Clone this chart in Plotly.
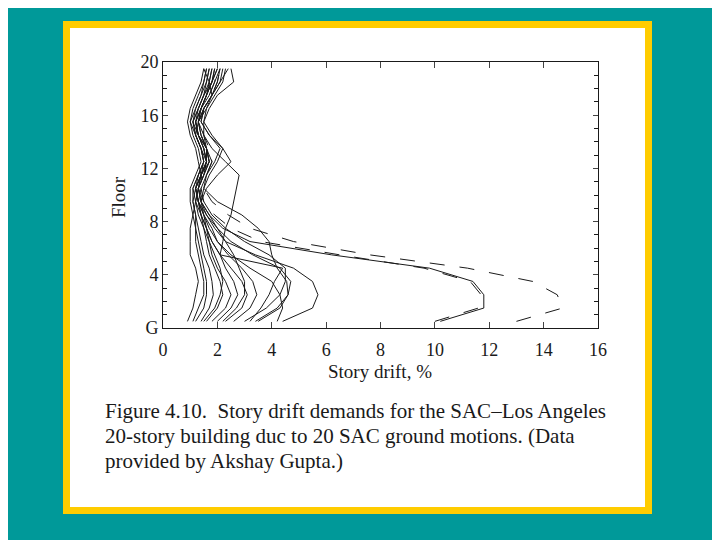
"""Story drift demands, SAC Los Angeles 20-story building (Fig. 4.10)."""

import plotly.graph_objects as go

# storey mid-heights the drifts are plotted at
floors = [0.5, 1.5, 2.5, 3.5, 4.5, 5.5, 6.5, 7.5, 8.5, 9.5,
          10.5, 11.5, 12.5, 13.5, 14.5, 15.5, 16.5, 17.5, 18.5, 19.5]

# story drift (%) per ground motion, bottom storey first
gm01 = [13.0, 14.7, 14.5, 13.6, 11.2, 7.6, 4.8, 3.2, 2.4, 1.8, 1.5, 1.4, 1.5, 1.6, 1.4, 1.3, 1.5, 1.7, 1.9, 2.0]
gm02 = [10.2, 11.8, 11.8, 11.4, 9.8, 6.2, 3.2, 2.2, 1.7, 1.4, 1.3, 1.5, 1.6, 1.4, 1.2, 1.3, 1.6, 1.8, 1.7, 1.5]
gm03 = [10.0, 11.6, 11.7, 11.3, 9.6, 6.5, 3.6, 2.5, 1.9, 1.5, 1.4, 1.6, 1.8, 1.7, 1.5, 1.4, 1.5, 1.8, 2.0, 2.1]
gm04 = [4.4, 5.5, 5.7, 5.5, 4.8, 3.4, 2.3, 1.9, 1.6, 1.3, 1.2, 1.4, 1.7, 1.6, 1.3, 1.2, 1.4, 1.6, 1.8, 1.9]
gm05 = [3.4, 4.2, 4.6, 4.7, 4.3, 3.3, 2.5, 2.0, 1.6, 1.4, 1.5, 1.7, 2.0, 2.2, 1.8, 1.5, 1.6, 1.9, 2.2, 2.3]
gm06 = [3.0, 3.8, 4.3, 4.5, 4.5, 3.9, 3.0, 2.3, 1.8, 1.5, 1.3, 1.4, 1.6, 1.5, 1.3, 1.2, 1.4, 1.6, 1.7, 1.8]
gm07 = [4.2, 4.4, 4.3, 4.0, 3.2, 2.5, 2.0, 1.7, 1.5, 1.3, 1.2, 1.3, 1.5, 1.4, 1.2, 1.1, 1.3, 1.5, 1.6, 1.7]
gm08 = [3.2, 3.6, 3.9, 4.1, 4.4, 2.1, 1.8, 1.6, 1.4, 1.3, 1.4, 1.6, 1.9, 2.1, 1.7, 1.4, 1.5, 1.8, 2.1, 2.4]
gm09 = [2.6, 3.2, 3.45, 3.3, 2.9, 2.4, 2.0, 1.8, 1.5, 1.3, 1.2, 1.4, 1.6, 1.5, 1.3, 1.2, 1.4, 1.6, 1.8, 1.9]
gm10 = [2.3, 2.9, 3.1, 2.9, 2.5, 2.1, 1.8, 1.6, 1.4, 1.2, 1.1, 1.3, 1.5, 1.4, 1.2, 1.0, 1.2, 1.4, 1.5, 1.6]
gm11 = [2.0, 2.5, 2.75, 2.6, 2.3, 2.1, 2.2, 2.3, 2.5, 2.6, 2.7, 2.8, 2.3, 1.8, 1.5, 1.3, 1.4, 1.6, 1.8, 2.0]
gm12 = [1.8, 2.3, 2.5, 2.3, 2.0, 1.8, 1.7, 1.6, 1.5, 1.4, 1.6, 2.0, 2.5, 2.2, 1.7, 1.4, 1.5, 1.8, 2.1, 2.2]
gm13 = [1.6, 2.0, 2.2, 2.1, 1.9, 1.7, 1.6, 1.5, 1.4, 1.3, 1.2, 1.4, 1.6, 1.5, 1.3, 1.1, 1.3, 1.5, 1.7, 1.8]
gm14 = [1.4, 1.7, 1.85, 1.8, 1.7, 1.5, 1.4, 1.3, 1.2, 1.1, 1.1, 1.3, 1.5, 1.4, 1.2, 1.1, 1.2, 1.4, 1.6, 1.7]
gm15 = [1.2, 1.5, 1.6, 1.6, 1.5, 1.4, 1.3, 1.2, 1.1, 1.0, 1.0, 1.2, 1.4, 1.3, 1.1, 1.0, 1.1, 1.3, 1.5, 1.6]
gm16 = [0.9, 1.1, 1.2, 1.3, 1.2, 1.0, 1.0, 1.0, 1.1, 1.2, 1.3, 1.4, 1.3, 1.2, 1.0, 0.9, 1.0, 1.2, 1.4, 1.5]
gm17 = [3.5, 4.3, 4.6, 4.55, 4.2, 4.0, 3.9, 3.5, 2.9, 2.0, 1.5, 1.6, 1.8, 1.6, 1.4, 1.3, 1.4, 1.7, 1.9, 2.1]
gm18 = [2.2, 2.7, 3.0, 3.0, 2.8, 2.6, 2.3, 2.0, 1.7, 1.4, 1.3, 1.5, 1.7, 1.6, 1.4, 1.3, 1.5, 1.8, 2.0, 2.1]
gm19 = [1.5, 1.9, 2.1, 2.2, 2.1, 1.9, 1.7, 1.5, 1.3, 1.2, 1.3, 1.5, 1.7, 1.6, 1.3, 1.2, 1.3, 1.5, 1.8, 2.0]
gm20 = [1.1, 1.3, 1.5, 1.5, 1.4, 1.3, 1.2, 1.2, 1.2, 1.1, 1.2, 1.4, 1.6, 1.6, 1.5, 1.5, 1.7, 2.0, 2.6, 2.5]

motions = [gm01, gm02, gm03, gm04, gm05, gm06, gm07, gm08, gm09, gm10,
           gm11, gm12, gm13, gm14, gm15, gm16, gm17, gm18, gm19, gm20]

x_ticks = [0, 2, 4, 6, 8, 10, 12, 14, 16]
y_ticks = [0, 4, 8, 12, 16, 20]
y_labels = ["G", "4", "8", "12", "16", "20"]

caption = [
    "Figure 4.10.  Story drift demands for the SAC\u2013Los Angeles",
    "20-story building duc to 20 SAC ground motions. (Data",
    "provided by Akshay Gupta.)",
]

# plot area in reference pixels; the page body adds an 8px offset
L, R, T, B = 163, 598, 62, 328
W, H = R - L, B - T
OFF = 8


def px(x):
    return (x - L) / W


def py(y):
    return (B - y) / H


SERIF = "Liberation Serif, Times New Roman, serif"
INK = "#1a1a1a"

fig = go.Figure()
for i, drift in enumerate(motions):
    dash = "longdash" if i in (0, 2) else "solid"
    fig.add_trace(
        go.Scatter(
            x=drift,
            y=floors,
            mode="lines",
            line=dict(color=INK, width=1, dash=dash),
            showlegend=False,
        )
    )

# teal slide, yellow frame, white card
fig.add_shape(type="rect", xref="paper", yref="paper", layer="below",
              x0=px(63), x1=px(652), y0=py(514), y1=py(21),
              fillcolor="#ffcc00", line_width=0)
fig.add_shape(type="rect", xref="paper", yref="paper", layer="below",
              x0=px(70), x1=px(645), y0=py(507), y1=py(28),
              fillcolor="white", line_width=0)

fig.add_annotation(text="Floor", textangle=-90, xref="paper", yref="paper",
                   x=px(118), y=py(197), xanchor="center", yanchor="middle",
                   showarrow=False,
                   font=dict(family=SERIF, size=19, color=INK))
fig.add_annotation(text="Story drift, %", xref="paper", yref="paper",
                   x=px(380), y=py(372), xanchor="center", yanchor="middle",
                   showarrow=False,
                   font=dict(family=SERIF, size=19, color=INK))
for k, line in enumerate(caption):
    fig.add_annotation(text=line, xref="paper", yref="paper",
                       x=px(103), y=py(411 + 25 * k), xanchor="left",
                       yanchor="middle", showarrow=False,
                       font=dict(family=SERIF, size=21, color=INK))

fig.update_xaxes(
    range=[0, 16], tickvals=x_ticks, ticks="inside", ticklen=6,
    showgrid=False, zeroline=False, showline=True, linecolor=INK,
    linewidth=1, mirror="ticks", ticklabelstandoff=5,
    tickfont=dict(family=SERIF, size=18, color=INK),
)
fig.update_yaxes(
    range=[0, 20], tickvals=y_ticks, ticktext=y_labels, ticks="inside",
    ticklen=5, showgrid=False, zeroline=False, showline=True,
    linecolor=INK, linewidth=1, mirror="ticks",
    minor=dict(dtick=1, ticks="inside", ticklen=4, tickcolor=INK),
    tickfont=dict(family=SERIF, size=18, color=INK),
)
fig.update_layout(
    width=720, height=540,
    margin=dict(l=L - OFF, r=720 - R + OFF, t=T - OFF, b=540 - B + OFF),
    paper_bgcolor="#009999",
    plot_bgcolor="white",
)
fig.write_html("out.html")
